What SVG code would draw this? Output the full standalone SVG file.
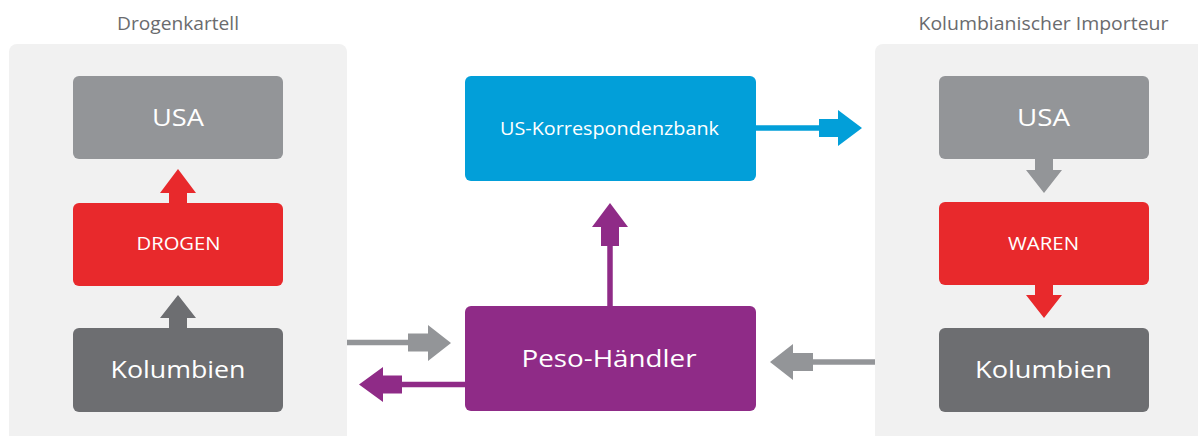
<svg xmlns="http://www.w3.org/2000/svg" width="1198" height="436" viewBox="0 0 1198 436">
  <style>
    .panel { fill: #f1f1f1; }
    .title { font-family: "Open Sans", "Liberation Sans", sans-serif; font-size: 18px; fill: #6a6b6e; text-anchor: middle; }
    .lbl { font-family: "Open Sans", "Liberation Sans", sans-serif; fill: #ffffff; text-anchor: middle; }
    .big { font-size: 24px; }
    .mid { font-size: 19px; }
    .grey { fill: #939598; }
    .dark { fill: #6d6e71; }
    .red { fill: #e8292c; }
    .blue { fill: #029fd9; }
    .purple { fill: #8f2b87; }
    .ln { fill: none; stroke-width: 5.5; }
  </style>

  <!-- background panels -->
  <g id="panel-cartel">
    <rect class="panel" x="9" y="44" width="338" height="410" rx="8"/>
    <text class="title" x="178" y="29.5" textLength="122" lengthAdjust="spacingAndGlyphs">Drogenkartell</text>
  </g>
  <g id="panel-importer">
    <rect class="panel" x="875" y="44" width="340" height="410" rx="8"/>
    <text class="title" x="1043.5" y="29.5" textLength="250" lengthAdjust="spacingAndGlyphs">Kolumbianischer Importeur</text>
  </g>

  <!-- connectors -->
  <g id="connectors">
    <!-- cartel column -->
    <polygon class="red" points="169,203 169,193 160,193 178,169 196,193 187,193 187,203"/>
    <polygon class="dark" points="169,328 169,318 160,318 178,295 196,318 187,318 187,328"/>
    <!-- importer column -->
    <polygon class="grey" points="1035,159 1053,159 1053,170 1062,170 1044,193 1026,170 1035,170"/>
    <polygon class="red" points="1035,285 1053,285 1053,295 1062,295 1044,318 1026,295 1035,295"/>
    <!-- bank to importer -->
    <line class="ln" stroke="#029fd9" x1="756" y1="128" x2="820" y2="128"/>
    <polygon class="blue" points="819,119 838,119 838,110 862,128 838,146 838,137 819,137"/>
    <!-- peso dealer to bank -->
    <line class="ln" stroke="#8f2b87" x1="610" y1="307" x2="610" y2="245"/>
    <polygon class="purple" points="601,246 601,227 592,227 610,203 628,227 619,227 619,246"/>
    <!-- cartel to peso dealer -->
    <line class="ln" stroke="#939598" x1="347" y1="342.5" x2="409" y2="342.5"/>
    <polygon class="grey" points="408,333.5 428,333.5 428,325 451,343 428,361 428,351.5 408,351.5"/>
    <!-- peso dealer to cartel -->
    <line class="ln" stroke="#8f2b87" x1="466" y1="384.5" x2="401" y2="384.5"/>
    <polygon class="purple" points="402,375.5 383,375.5 383,367 359,384.5 383,402 383,393.5 402,393.5"/>
    <!-- importer to peso dealer -->
    <line class="ln" stroke="#939598" x1="875" y1="362" x2="812" y2="362"/>
    <polygon class="grey" points="813,353 793,353 793,344 770,362 793,380 793,371 813,371"/>
  </g>

  <!-- cartel nodes -->
  <g id="cartel-usa">
    <rect class="grey" x="73" y="76" width="210" height="83" rx="6"/>
    <text class="lbl big" x="178" y="126" textLength="52" lengthAdjust="spacingAndGlyphs">USA</text>
  </g>
  <g id="cartel-drogen">
    <rect class="red" x="73" y="203" width="210" height="83" rx="6"/>
    <text class="lbl mid" x="178.5" y="250" textLength="84" lengthAdjust="spacingAndGlyphs">DROGEN</text>
  </g>
  <g id="cartel-kolumbien">
    <rect class="dark" x="73" y="328" width="210" height="84" rx="6"/>
    <text class="lbl big" x="178" y="377.5" textLength="135" lengthAdjust="spacingAndGlyphs">Kolumbien</text>
  </g>

  <!-- middle nodes -->
  <g id="us-bank">
    <rect class="blue" x="465" y="76" width="291" height="105" rx="6"/>
    <text class="lbl mid" x="609.5" y="135" textLength="219" lengthAdjust="spacingAndGlyphs">US-Korrespondenzbank</text>
  </g>
  <g id="peso-dealer">
    <rect class="purple" x="465" y="306" width="291" height="105" rx="6"/>
    <text class="lbl big" x="609" y="367" textLength="175" lengthAdjust="spacingAndGlyphs">Peso-Händler</text>
  </g>

  <!-- importer nodes -->
  <g id="importer-usa">
    <rect class="grey" x="939" y="76" width="210" height="83" rx="6"/>
    <text class="lbl big" x="1043.5" y="126" textLength="53" lengthAdjust="spacingAndGlyphs">USA</text>
  </g>
  <g id="importer-waren">
    <rect class="red" x="939" y="202" width="210" height="83" rx="6"/>
    <text class="lbl mid" x="1043.5" y="250" textLength="71" lengthAdjust="spacingAndGlyphs">WAREN</text>
  </g>
  <g id="importer-kolumbien">
    <rect class="dark" x="939" y="328" width="210" height="84" rx="6"/>
    <text class="lbl big" x="1043.5" y="377.5" textLength="137" lengthAdjust="spacingAndGlyphs">Kolumbien</text>
  </g>
</svg>
